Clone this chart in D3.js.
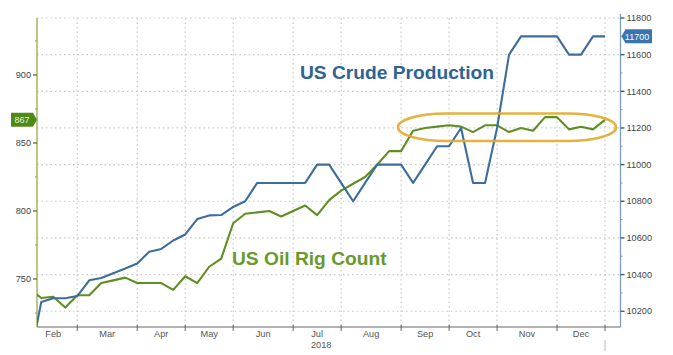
<!DOCTYPE html>
<html><head><meta charset="utf-8">
<script src="https://cdn.jsdelivr.net/npm/d3@7"></script>
<style>body{margin:0;background:#fff}svg{display:block;font-family:"Liberation Sans",Arial,sans-serif}</style>
</head><body><svg id="c" width="673" height="355"></svg>
<script>
// Weekly series (index-based x, as in the Bloomberg chart)
const crudeProduction = [9920,10251,10271,10271,10283,10369,10381,10407,10433,10460,10525,10540,10586,10619,10703,10723,10725,10769,10800,10900,10900,10900,10900,10900,11000,11000,10900,10800,10900,11000,11000,11000,10900,11000,11100,11100,11200,10900,10900,11200,11600,11700,11700,11700,11700,11600,11600,11700,11700];
const oilRigCount = [743,736,737,729,738,738,747,749,751,747,747,747,742,752,747,759,765,791,798,799,800,796,800,804,797,808,815,820,825,834,844,844,859,861,862,863,862,858,863,863,858,861,859,869,869,860,862,860,867];
const monthLabels = ["Feb","Mar","Apr","May","Jun","Jul","Aug","Sep","Oct","Nov","Dec"];
const monthEndIdx = [4,9,13,17,22,26,31,35,39,44,48];
const yearLabel = "2018";
const leftMajor = [750,800,850,900];
const leftMinor = [725,775,825,875,925];
const rightMajor = [10200,10400,10600,10800,11000,11200,11400,11600,11800];
const rightMinor = [10300,10500,10700,10900,11100,11300,11500,11700];
const lastRig = 867, lastCrude = 11700;

const svg = d3.select("#c");
const L = 37, R = 620.5, T = 18, B = 327;
const x = d3.scaleLinear().domain([0, 48]).range([29.3, 605]);
const yL = d3.scaleLinear().domain([714.7, 941.9]).range([B, T]);
const yR = d3.scaleLinear().domain([10114, 11800]).range([B, T]);

svg.append("defs").append("clipPath").attr("id","clip")
  .append("rect").attr("x",L).attr("y",T-2).attr("width",R-L).attr("height",B-T+2);

// grid
const grid = svg.append("g").attr("stroke","#c8c8c8").attr("stroke-width",1.2).attr("stroke-dasharray","1.5,3");
grid.selectAll("line.h").data(rightMajor).join("line").attr("class","h")
  .attr("x1",L).attr("x2",R).attr("y1",d=>yR(d)).attr("y2",d=>yR(d));
grid.selectAll("line.v").data(monthEndIdx).join("line").attr("class","v")
  .attr("x1",d=>x(d)).attr("x2",d=>x(d)).attr("y1",T).attr("y2",B);

// bottom axis
svg.append("line").attr("x1",L).attr("x2",R).attr("y1",B).attr("y2",B).attr("stroke","#666").attr("stroke-width",1);
svg.append("g").selectAll("line").data(monthEndIdx).join("line")
  .attr("x1",d=>x(d)).attr("x2",d=>x(d)).attr("y1",B-2).attr("y2",B+4).attr("stroke","#666");
const starts = [0].concat(monthEndIdx.slice(0,-1));
svg.append("g").selectAll("text").data(monthLabels).join("text")
  .attr("x",(d,i)=>x((starts[i]+monthEndIdx[i])/2)).attr("y",337)
  .attr("text-anchor","middle").attr("font-size",9.2).attr("fill","#555").text(d=>d);
svg.append("text").attr("x",x(24)+4).attr("y",348).attr("text-anchor","middle")
  .attr("font-size",9.2).attr("fill","#555").text(yearLabel);
svg.append("line").attr("x1",x(48)).attr("x2",x(48)).attr("y1",340).attr("y2",351).attr("stroke","#bbb");

// left axis
svg.append("line").attr("x1",L).attr("x2",L).attr("y1",T).attr("y2",B).attr("stroke","#9aa84c").attr("stroke-width",1.3);
svg.append("g").selectAll("line").data(leftMajor).join("line")
  .attr("x1",L-4).attr("x2",L).attr("y1",d=>yL(d)).attr("y2",d=>yL(d)).attr("stroke","#4f7d1c").attr("stroke-width",1.3);
svg.append("g").selectAll("line").data(leftMinor).join("line")
  .attr("x1",L-2).attr("x2",L).attr("y1",d=>yL(d)).attr("y2",d=>yL(d)).attr("stroke","#8a9a50");
svg.append("g").selectAll("text").data(leftMajor).join("text")
  .attr("x",L-6).attr("y",d=>yL(d)+3.2).attr("text-anchor","end").attr("font-size",9.2).attr("fill","#444").text(d=>d);

// right axis
svg.append("line").attr("x1",R).attr("x2",R).attr("y1",T-4).attr("y2",B).attr("stroke","#7e9cbc").attr("stroke-width",1.3);
svg.append("g").selectAll("line").data(rightMajor).join("line")
  .attr("x1",R).attr("x2",R+4).attr("y1",d=>yR(d)).attr("y2",d=>yR(d)).attr("stroke","#2f5f8f").attr("stroke-width",1.4);
svg.append("g").selectAll("line").data(rightMinor).join("line")
  .attr("x1",R).attr("x2",R+2).attr("y1",d=>yR(d)).attr("y2",d=>yR(d)).attr("stroke","#7e9cbc");
svg.append("g").selectAll("text").data(rightMajor).join("text")
  .attr("x",R+6).attr("y",d=>yR(d)+3.2).attr("font-size",9.2).attr("fill","#444").text(d=>d);

// lines
const plot = svg.append("g").attr("clip-path","url(#clip)");
plot.append("path").datum(oilRigCount)
  .attr("d", d3.line().x((d,i)=>x(i)).y(d=>yL(d)))
  .attr("fill","none").attr("stroke","#5f8f22").attr("stroke-width",2.1).attr("stroke-linejoin","round");
plot.append("path").datum(crudeProduction)
  .attr("d", d3.line().x((d,i)=>x(i)).y(d=>yR(d)))
  .attr("fill","none").attr("stroke","#3c6d9c").attr("stroke-width",2.1).attr("stroke-linejoin","round");

// value tags
const gy = yL(lastRig);
svg.append("path").attr("d",`M11,${gy-7} H33 L37,${gy} L33,${gy+7} H11 Z`).attr("fill","#4f8a18");
svg.append("text").attr("x",22).attr("y",gy+3.2).attr("text-anchor","middle").attr("font-size",9).attr("fill","#e4f3d4").text(lastRig);
const by = yR(lastCrude);
svg.append("path").attr("d",`M${R+1},${by} L${R+5},${by-7} H652 V${by+7} H${R+5} Z`).attr("fill","#3a74b0");
svg.append("text").attr("x",637).attr("y",by+3.2).attr("text-anchor","middle").attr("font-size",9).attr("fill","#fff").text(lastCrude);

// annotations
svg.append("text").attr("x",300).attr("y",79).attr("font-size",19.2).attr("font-weight","bold").attr("fill","#2e6393").text("US Crude Production");
svg.append("text").attr("x",232).attr("y",265).attr("font-size",19.2).attr("font-weight","bold").attr("fill","#689a2c").text("US Oil Rig Count");

// highlight ellipse
svg.append("rect").attr("x",398).attr("y",113.5).attr("width",218).attr("height",27.5)
  .attr("rx",48).attr("ry",13.75).attr("fill","none").attr("stroke","#e2a92c").attr("stroke-width",2.6).attr("opacity",0.9);
</script></body></html>
